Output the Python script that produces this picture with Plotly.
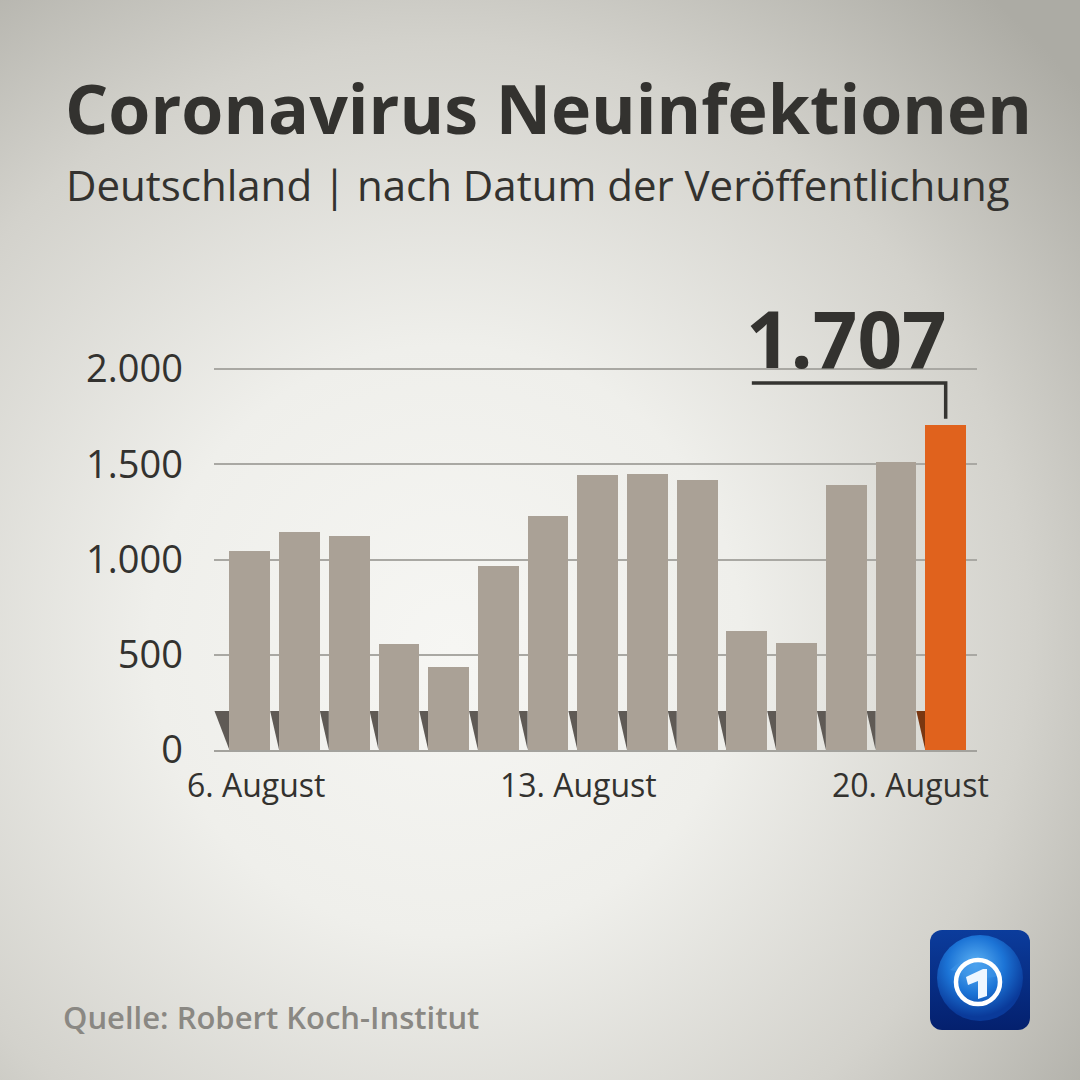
import base64
import plotly.graph_objects as go

# Neuinfektionen nach Datum der Veröffentlichung (RKI), 6.-20. August
days = list(range(15))
cases = [1045, 1147, 1122, 555, 436, 966, 1226, 1445, 1449, 1415, 625, 561, 1390, 1510, 1707]
tick_pos = [0.13, 6.61, 13.29]
tick_text = ["6. August", "13. August", "20. August"]
y_ticks = [0, 500, 1000, 1500, 2000]

GREY = "#aaa196"
ORANGE = "#e0621d"
SHADOW = "#5f5a55"
SHADOW_OR = "#7a3711"
TEXT = "#33322f"
FONT = "Open Sans"

W, H = 1080, 1080
L, R, T, B = 214, 103, 300, 330
pw, ph = W - L - R, H - T - B
bar_w = 0.82
shadow_top = 205

colors = [GREY] * (len(cases) - 1) + [ORANGE]

fig = go.Figure(go.Bar(x=days, y=cases, width=bar_w, marker=dict(color=colors, line_width=0),
                       hoverinfo="skip"))

# dunkle Schattenkeile links an jedem Balken
shapes = []
for i in days:
    left = i - bar_w / 2
    start = left - (1 - bar_w) if i > 0 else left - 0.3
    shapes.append(dict(type="path", xref="x", yref="y", layer="below", line_width=0,
                       fillcolor=SHADOW_OR if i == days[-1] else SHADOW,
                       path=f"M {start},{shadow_top} L {left},{shadow_top} L {left},0 Z"))

# Klammer zum letzten Wert
last = cases[-1]
shapes.append(dict(type="path", xref="x", yref="y", line=dict(color="#353431", width=3.5),
                   path=f"M 10.1,{last + 220} L {days[-1]},{last + 220} L {days[-1]},{last + 32}"))

bg_svg = """<svg xmlns='http://www.w3.org/2000/svg' width='1080' height='1080'>
<defs><radialGradient id='g' cx='0.4' cy='0.58' r='0.78' fx='0.42' fy='0.6'>
<stop offset='0' stop-color='#f6f6f3'/><stop offset='0.35' stop-color='#efefeb'/>
<stop offset='0.7' stop-color='#d3d2cc'/><stop offset='1' stop-color='#acaba4'/>
</radialGradient></defs><rect width='1080' height='1080' fill='url(#g)'/></svg>"""

logo_svg = """<svg xmlns='http://www.w3.org/2000/svg' width='100' height='100' viewBox='0 0 100 100'>
<defs>
<linearGradient id='b' x1='0' y1='0' x2='0' y2='1'><stop offset='0' stop-color='#0b3c9c'/><stop offset='1' stop-color='#04206e'/></linearGradient>
<radialGradient id='e' cx='0.45' cy='0.35' r='0.6'><stop offset='0' stop-color='#5fb4f5'/><stop offset='0.55' stop-color='#1c74d6'/><stop offset='1' stop-color='#0a3a9a'/></radialGradient>
</defs>
<rect x='0' y='0' width='100' height='100' rx='12' fill='url(#b)'/>
<circle cx='50' cy='48' r='43' fill='url(#e)'/>
<path d='M20 40 Q35 25 55 30 L70 45 Q60 50 48 46 Z' fill='#3d95e8' opacity='0.6'/>
<circle cx='48' cy='52' r='22' fill='none' stroke='#ffffff' stroke-width='4.5'/>
<path d='M36 47 L53 39 L57 39 L57 66 L48 69 L48 51 L38 55 Z' fill='#eef6ff'/>
</svg>"""


def uri(svg):
    return "data:image/svg+xml;base64," + base64.b64encode(svg.encode()).decode()


images = [
    dict(source=uri(bg_svg), xref="paper", yref="paper", x=-L / pw, y=1 + T / ph,
         sizex=W / pw, sizey=H / ph, sizing="stretch", xanchor="left", yanchor="top", layer="below"),
    dict(source=uri(logo_svg), xref="paper", yref="paper", x=(930 - L) / pw, y=1 + (T - 930) / ph,
         sizex=100 / pw, sizey=100 / ph, sizing="stretch", xanchor="left", yanchor="top", layer="above"),
]

annotations = [
    dict(text="<b>Coronavirus Neuinfektionen</b>", xref="paper", yref="paper",
         x=(63 - L) / pw, y=1 + (T - 108) / ph, xanchor="left", yanchor="middle", showarrow=False,
         font=dict(family=FONT, size=68, color=TEXT)),
    dict(text="Deutschland | nach Datum der Veröffentlichung", xref="paper", yref="paper",
         x=(64 - L) / pw, y=1 + (T - 184) / ph, xanchor="left", yanchor="middle", showarrow=False,
         font=dict(family=FONT, size=42, color=TEXT)),
    dict(text=f"<b>{last:,}</b>".replace(",", "."), xref="x", yref="y", x=12, y=last + 455,
         xanchor="center", yanchor="middle", showarrow=False,
         font=dict(family=FONT, size=78, color=TEXT)),
    dict(text="Quelle: Robert Koch-Institut", xref="paper", yref="paper",
         x=(61 - L) / pw, y=1 + (T - 1017) / ph, xanchor="left", yanchor="middle", showarrow=False,
         font=dict(family=FONT, size=31, color="#8a8883", weight=600)),
]

fig.update_layout(
    width=W, height=H, margin=dict(l=L, r=R, t=T, b=B),
    paper_bgcolor="#e6e6e1", plot_bgcolor="rgba(0,0,0,0)",
    showlegend=False, separators=",.", bargap=0,
    shapes=shapes, images=images, annotations=annotations,
    xaxis=dict(range=[-0.72, 14.63], tickmode="array", tickvals=tick_pos, ticktext=tick_text,
               showgrid=False, zeroline=False, showline=True, linecolor="#a3a29d", linewidth=2,
               ticks="", ticklabelstandoff=7, tickfont=dict(family=FONT, size=32, color=TEXT)),
    yaxis=dict(range=[0, 2000 * ph / 381], tickmode="array", tickvals=y_ticks, tickformat=",d",
               showgrid=True, gridcolor="#a9a8a3", gridwidth=1.5, zeroline=False, showline=False,
               ticks="", ticklabelstandoff=30, tickfont=dict(family=FONT, size=38, color=TEXT)),
)

fig.write_html("out.html", config={"displayModeBar": False},
               post_script="document.body.style.margin='0';")
